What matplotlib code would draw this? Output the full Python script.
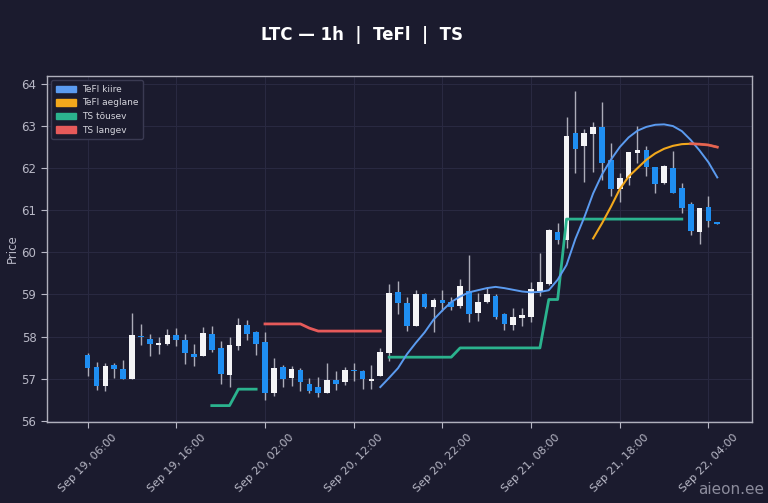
import numpy as np
import pandas as pd
import matplotlib
matplotlib.use("Agg")
import matplotlib.pyplot as plt
import matplotlib.dates as mdates
from matplotlib.patches import Patch

# hourly candles, Sep 19 06:00 -> Sep 22 05:00
first_time = "2024-09-19 06:00"
opens = [57.55, 57.28, 56.83, 57.32, 57.24, 57.00, 58.02, 57.95, 57.81, 57.82,
         58.03, 57.93, 57.59, 57.53, 58.05, 57.73, 57.08, 57.77, 58.27, 58.10,
         57.88, 56.66, 57.28, 57.02, 57.21, 56.88, 56.80, 56.66, 56.96, 56.91,
         57.21, 57.17, 56.95, 57.07, 57.61, 59.06, 58.79, 58.26, 59.02, 58.70,
         58.86, 58.82, 58.72, 59.09, 58.55, 58.83, 58.97, 58.53, 58.27, 58.45,
         58.47, 59.09, 59.25, 60.48, 60.29, 62.83, 62.53, 62.80, 62.98, 62.19,
         61.50, 61.76, 62.37, 62.43, 62.02, 61.64, 62.00, 61.54, 61.15, 60.49,
         61.07, 60.73]
highs = [57.60, 57.39, 57.37, 57.37, 57.45, 58.56, 58.31, 58.05, 57.99, 58.19,
         58.20, 58.06, 57.83, 58.22, 58.25, 57.89, 57.99, 58.44, 58.39, 58.13,
         58.11, 57.48, 57.33, 57.29, 57.25, 57.02, 57.05, 57.36, 57.19, 57.28,
         57.37, 57.21, 57.33, 57.73, 59.24, 59.32, 58.94, 59.10, 59.04, 58.92,
         59.11, 58.94, 59.36, 59.94, 59.03, 59.18, 59.02, 58.55, 58.69, 58.67,
         59.30, 59.99, 60.55, 60.69, 63.22, 63.84, 62.92, 63.10, 63.58, 62.60,
         61.89, 62.39, 63.00, 62.53, 62.02, 62.07, 62.41, 61.64, 61.20, 61.05,
         61.34, 60.73]
lows = [57.06, 56.74, 56.71, 57.01, 56.98, 57.00, 57.79, 57.53, 57.59, 57.79,
        57.77, 57.35, 57.31, 57.53, 57.63, 56.87, 56.79, 57.67, 57.93, 57.55,
        56.50, 56.58, 56.79, 56.82, 56.70, 56.66, 56.56, 56.66, 56.74, 56.85,
        56.94, 56.75, 56.75, 57.07, 57.41, 58.54, 58.13, 58.25, 58.68, 58.10,
        58.61, 58.62, 58.68, 58.35, 58.37, 58.80, 58.41, 58.16, 58.16, 58.25,
        58.34, 58.96, 59.22, 60.21, 60.10, 61.89, 61.68, 61.92, 61.73, 61.34,
        61.20, 61.60, 62.13, 61.81, 61.40, 61.62, 61.42, 60.94, 60.41, 60.19,
        60.61, 60.67]
closes = [57.25, 56.83, 57.29, 57.23, 57.00, 58.03, 57.99, 57.83, 57.84, 58.03,
          57.93, 57.60, 57.52, 58.09, 57.69, 57.12, 57.79, 58.27, 58.06, 57.83,
          56.66, 57.25, 57.00, 57.24, 56.92, 56.70, 56.66, 56.96, 56.88, 57.21,
          57.17, 56.99, 56.99, 57.63, 59.04, 58.79, 58.26, 59.02, 58.70, 58.88,
          58.80, 58.71, 59.19, 58.54, 58.82, 59.01, 58.47, 58.29, 58.47, 58.51,
          59.14, 59.29, 60.53, 60.29, 62.76, 62.45, 62.83, 62.97, 62.13, 61.50,
          61.77, 62.39, 62.43, 62.02, 61.62, 62.05, 61.42, 61.05, 60.51, 61.05,
          60.75, 60.67]

# indicator lines (start time, values per hour)
fast_start = "2024-09-20 15:00"
fast_vals = [56.80, 57.02, 57.25, 57.58, 57.85, 58.10, 58.40, 58.62, 58.82, 58.95,
             59.05, 59.10, 59.15, 59.18, 59.15, 59.11, 59.07, 59.05, 59.06, 59.10,
             59.35, 59.70, 60.32, 60.83, 61.40, 61.85, 62.20, 62.50, 62.73, 62.89,
             62.98, 63.03, 63.04, 63.00, 62.88, 62.67, 62.42, 62.14, 61.78]
slow_start = "2024-09-21 15:00"
slow_vals = [60.33, 60.69, 61.08, 61.50, 61.80, 62.00, 62.20, 62.35, 62.46, 62.53,
             62.57, 62.58, 62.57, 62.55, 62.50]
up1_start = "2024-09-19 20:00"
up1_vals = [56.36, 56.36, 56.36, 56.75, 56.75, 56.75]
up2_start = "2024-09-20 16:00"
up2_vals = [57.51] * 8 + [57.73] * 10 + [58.88] * 2 + [60.79] * 14
dn1_start = "2024-09-20 02:00"
dn1_vals = [58.30] * 5 + [58.20] + [58.13] * 8
dn2_start = "2024-09-22 02:00"
dn2_vals = [62.58, 62.57, 62.55, 62.50]

tick_labels = ["Sep 19, 06:00", "Sep 19, 16:00", "Sep 20, 02:00", "Sep 20, 12:00",
               "Sep 20, 22:00", "Sep 21, 08:00", "Sep 21, 18:00", "Sep 22, 04:00"]

bg = "#1b1b2e"
up_col = "#f4f4f6"
down_col = "#1f8ef1"
fast_col = "#5b9bf0"
slow_col = "#f2a81c"
tsup_col = "#2bb38e"
tsdn_col = "#e65a5a"
txt = "#b8b8c6"

times = pd.date_range(first_time, periods=len(opens), freq="h")
x = mdates.date2num(times)
o, h, l, c = map(np.array, (opens, highs, lows, closes))


def series(start, vals):
    t = pd.date_range(start, periods=len(vals), freq="h")
    return mdates.date2num(t), vals


fig = plt.figure(figsize=(7.68, 5.03), dpi=100, facecolor=bg)
ax = fig.add_axes([0.061, 0.161, 0.918, 0.688], facecolor=bg)

w = 0.64 / 24
for xi, oi, hi, li, ci in zip(x, o, h, l, c):
    col = up_col if ci >= oi else down_col
    ax.vlines(xi, li, hi, color="#acacb8", lw=1, zorder=2)
    bottom = min(oi, ci)
    height = max(abs(ci - oi), 0.03)
    ax.bar(xi, height, w, bottom=bottom, color=col, zorder=3, linewidth=0)

ax.plot(*series(up1_start, up1_vals), color=tsup_col, lw=2, zorder=4)
ax.plot(*series(up2_start, up2_vals), color=tsup_col, lw=2, zorder=4)
ax.plot(*series(dn1_start, dn1_vals), color=tsdn_col, lw=2, zorder=4)
ax.plot(*series(fast_start, fast_vals), color=fast_col, lw=1.4, zorder=5)
ax.plot(*series(slow_start, slow_vals), color=slow_col, lw=1.5, zorder=5)
ax.plot(*series(dn2_start, dn2_vals), color=tsdn_col, lw=2, alpha=0.85, zorder=6)

x0 = mdates.date2num(pd.Timestamp(first_time))
ax.set_xlim(x0 - 4.6 / 24, x0 + 74.9 / 24)
ax.set_ylim(55.97, 64.19)
ax.set_yticks(range(56, 65))

ticks = mdates.date2num(pd.date_range(first_time, periods=len(tick_labels), freq="10h"))
ax.set_xticks(ticks)
ax.set_xticklabels(tick_labels, rotation=45)

ax.grid(True, color="#2a2a42", lw=0.7)
ax.set_axisbelow(True)
for s in ax.spines.values():
    s.set_color("#b0b0bc")
    s.set_linewidth(1)
ax.tick_params(colors=txt, labelsize=8.5, length=4)
ax.tick_params(axis="x", labelsize=8)
ax.set_ylabel("Price", color=txt, fontsize=8.5, labelpad=2)

handles = [Patch(color=fast_col, label="TeFl kiire"),
           Patch(color=slow_col, label="TeFl aeglane"),
           Patch(color=tsup_col, label="TS tõusev"),
           Patch(color=tsdn_col, label="TS langev")]
leg = ax.legend(handles=handles, loc="upper left", fontsize=6.5, facecolor=bg,
                edgecolor="#3a3a52", framealpha=1, handlelength=2.2,
                handleheight=0.75, borderpad=0.5, labelspacing=0.5,
                handletextpad=0.7)
for t in leg.get_texts():
    t.set_color("#d4d4dc")

fig.text(0.471, 0.93, "LTC — 1h  |  TeFl  |  TS", color="white", fontsize=12,
         fontweight="bold", ha="center", va="center")
fig.text(0.995, 0.012, "aieon.ee", color="#8c8c9c", fontsize=11, ha="right",
         va="bottom")

fig.savefig("out.png", dpi=100, facecolor=bg)
